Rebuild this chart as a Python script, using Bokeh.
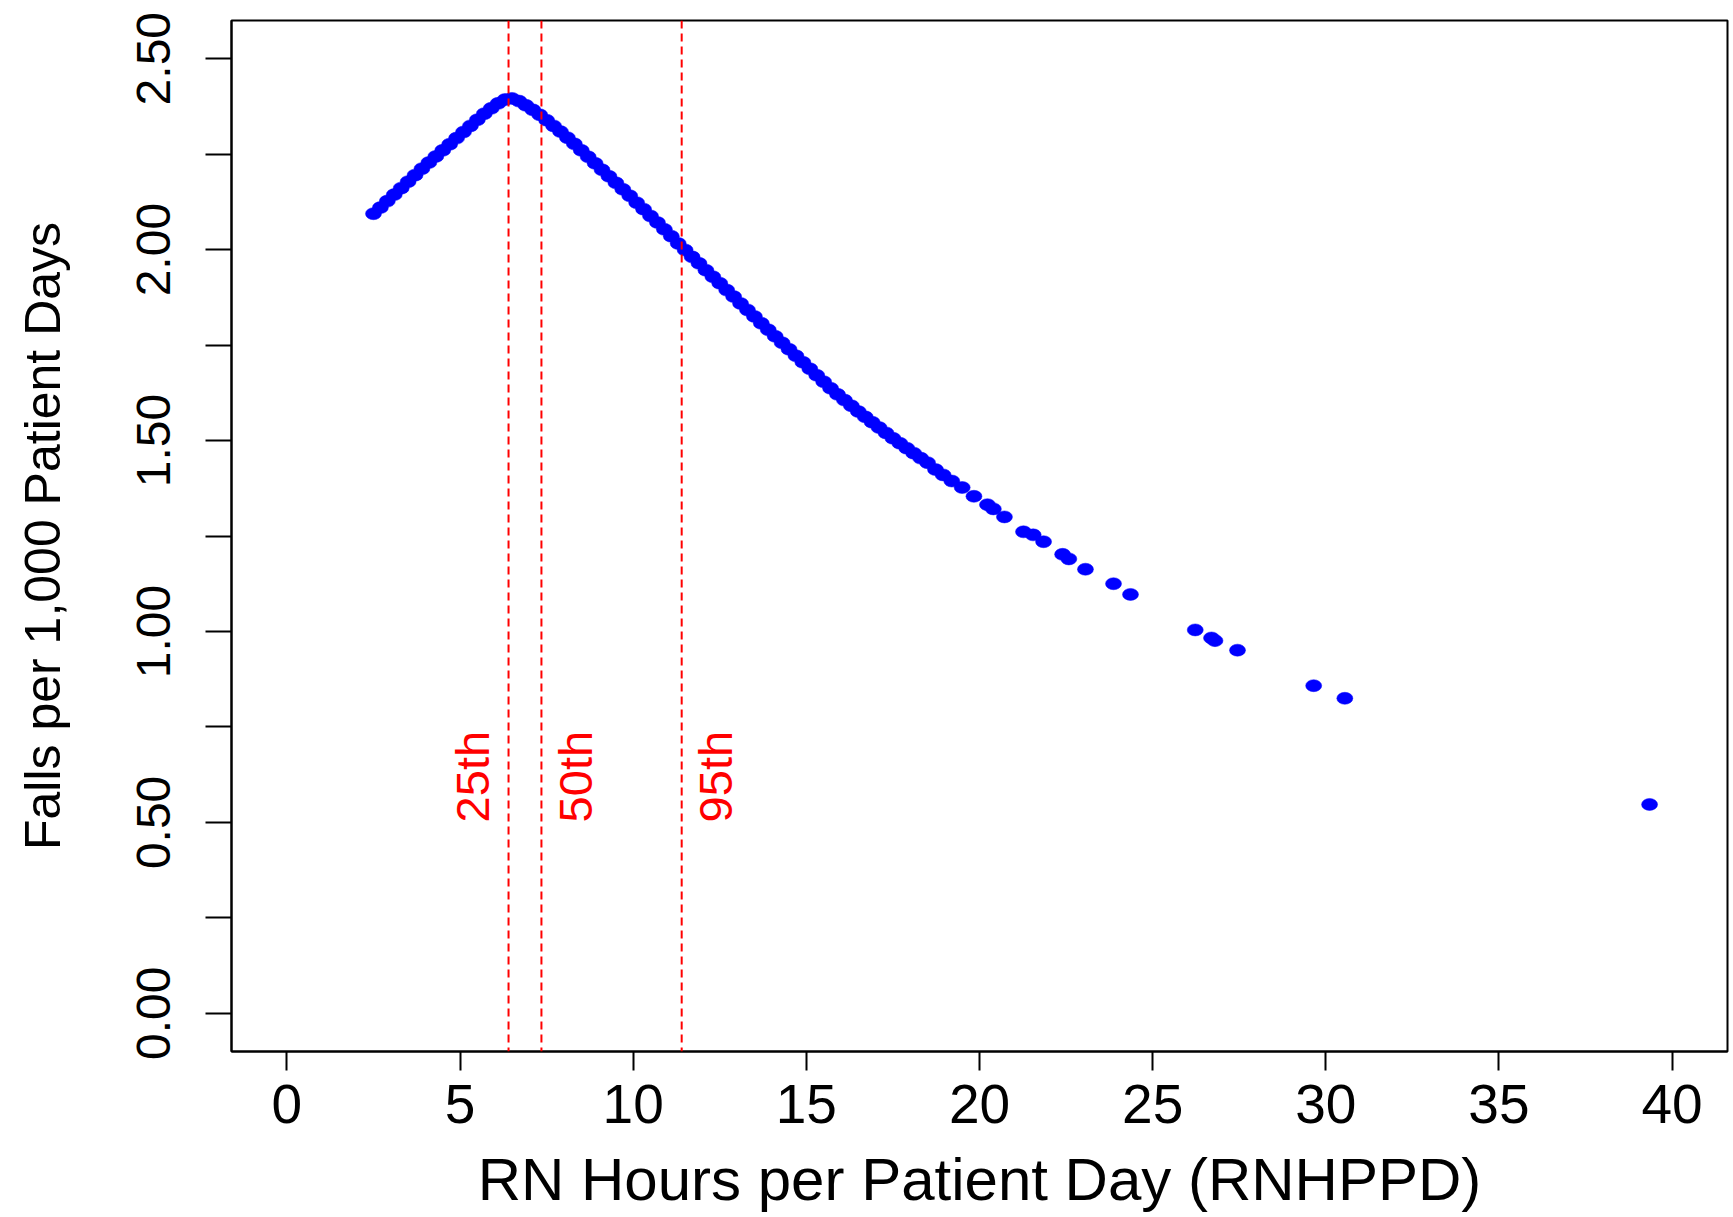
from math import pi

from bokeh.core.properties import value
from bokeh.embed import file_html
from bokeh.models import ColumnDataSource, FixedTicker, Range1d, Span
from bokeh.plotting import figure
from bokeh.resources import INLINE

# Predicted falls per 1,000 patient days for each RN hours-per-patient-day value
rnhppd = [
    2.5, 2.7, 2.9, 3.1, 3.3, 3.5, 3.7, 3.9, 4.1, 4.3, 4.5, 4.7, 4.9, 5.1, 5.3,
    5.5, 5.7, 5.9, 6.1, 6.3, 6.5, 6.7, 6.9, 7.1, 7.3, 7.5, 7.7, 7.9, 8.1, 8.3,
    8.5, 8.7, 8.9, 9.1, 9.3, 9.5, 9.7, 9.9, 10.1, 10.3, 10.5, 10.7, 10.9, 11.1,
    11.3, 11.5, 11.7, 11.9, 12.1, 12.3, 12.5, 12.7, 12.9, 13.1, 13.3, 13.5, 13.7,
    13.9, 14.1, 14.3, 14.5, 14.7, 14.9, 15.1, 15.3, 15.5, 15.7, 15.9, 16.1, 16.3,
    16.5, 16.7, 16.9, 17.1, 17.3, 17.5, 17.7, 17.9, 18.1, 18.3, 18.5,
    18.73, 18.95, 19.2, 19.5, 19.84, 20.23, 20.4, 20.72, 21.27, 21.55, 21.85,
    22.4, 22.58, 23.06, 23.87, 24.36, 26.23, 26.7, 26.8, 27.45, 29.65, 30.55,
    39.35,
]
falls_rate = [
    2.094, 2.110, 2.127, 2.144, 2.161, 2.178, 2.195, 2.212, 2.228, 2.244, 2.260,
    2.276, 2.292, 2.308, 2.324, 2.340, 2.356, 2.370, 2.383, 2.393, 2.396, 2.389,
    2.378, 2.366, 2.353, 2.339, 2.324, 2.309, 2.293, 2.277, 2.260, 2.243, 2.226,
    2.209, 2.192, 2.175, 2.158, 2.141, 2.123, 2.106, 2.088, 2.071, 2.053, 2.035,
    2.016, 1.999, 1.981, 1.964, 1.946, 1.929, 1.912, 1.894, 1.877, 1.859, 1.842,
    1.825, 1.807, 1.790, 1.773, 1.756, 1.739, 1.722, 1.705, 1.688, 1.671, 1.654,
    1.637, 1.621, 1.606, 1.591, 1.576, 1.562, 1.548, 1.534, 1.520, 1.506, 1.493,
    1.480, 1.467, 1.454, 1.442,
    1.424, 1.410, 1.394, 1.377, 1.354, 1.332, 1.321, 1.300, 1.261, 1.253, 1.235,
    1.202, 1.190, 1.163, 1.125, 1.097, 1.004, 0.983, 0.976, 0.951, 0.858, 0.825,
    0.547,
]

# Percentiles of RNHPPD marked with reference lines
percentile_names = ["25th", "50th", "95th"]
percentile_values = [6.4, 7.35, 11.4]

x_ticks = [0, 5, 10, 15, 20, 25, 30, 35, 40]
y_ticks = [0.0, 0.25, 0.5, 0.75, 1.0, 1.25, 1.5, 1.75, 2.0, 2.25, 2.5]
y_tick_labels = ["0.00", "", "0.50", "", "1.00", "", "1.50", "", "2.00", "", "2.50"]

FONT = "Liberation Sans"

p = figure(
    frame_width=1496,
    frame_height=1031,
    min_border_left=231,
    min_border_right=6,
    min_border_top=20,
    min_border_bottom=166,
    x_range=Range1d(-1.6, 41.6),
    y_range=Range1d(-0.1, 2.6),
    output_backend="svg",
    toolbar_location=None,
    background_fill_color="white",
    border_fill_color="white",
)
p.grid.visible = False
p.outline_line_color = "black"
p.outline_line_width = 2

# Axes
p.xaxis.ticker = FixedTicker(ticks=x_ticks)
p.yaxis.ticker = FixedTicker(ticks=y_ticks)
p.yaxis.major_label_overrides = {t: s for t, s in zip(y_ticks, y_tick_labels)}
p.yaxis.major_label_orientation = "vertical"

for ax in (p.xaxis[0], p.yaxis[0]):
    ax.axis_line_color = "black"
    ax.axis_line_width = 2
    ax.major_tick_line_color = "black"
    ax.major_tick_line_width = 2
    ax.major_tick_in = 0
    ax.minor_tick_line_color = None
    ax.major_label_text_font = FONT
    ax.major_label_text_color = "black"
    ax.axis_label_text_font = FONT
    ax.axis_label_text_font_style = "normal"
    ax.axis_label_text_color = "black"

p.xaxis.major_tick_out = 19
p.xaxis.major_label_standoff = 14
p.xaxis.major_label_text_font_size = "55px"
p.xaxis.axis_label = "RN Hours per Patient Day (RNHPPD)"
p.xaxis.axis_label_text_font_size = "60px"
p.xaxis.axis_label_standoff = 20

p.yaxis.major_tick_out = 26
p.yaxis.major_label_standoff = 35
p.yaxis.major_label_text_font_size = "48px"
p.yaxis.axis_label = "Falls per 1,000 Patient Days"
p.yaxis.axis_label_text_font_size = "50px"
p.yaxis.axis_label_standoff = 64

# Predicted rates as solid blue dots
pts = ColumnDataSource(data=dict(x=rnhppd, y=falls_rate))
p.ellipse(
    x="x", y="y", source=pts,
    width=16, height=12, width_units="screen", height_units="screen",
    fill_color="#0000FF", line_color="#0000FF", line_width=0.5,
)

# Dashed percentile lines with rotated labels
for v in percentile_values:
    p.add_layout(Span(location=v, dimension="height", line_color="#FF0000",
                      line_dash="8 5", line_width=2))

label_shift = [-36, 34, 34]
labels = ColumnDataSource(data=dict(
    x=percentile_values,
    y=[0.5] * len(percentile_values),
    text=percentile_names,
    dx=label_shift,
))
p.text(
    x="x", y="y", text="text", source=labels, x_offset="dx",
    angle=pi / 2, text_align="left", text_baseline="middle",
    text_color="#FF0000", text_font=value(FONT), text_font_size="47px",
)

open("out.html", "w").write(file_html(p, INLINE))
